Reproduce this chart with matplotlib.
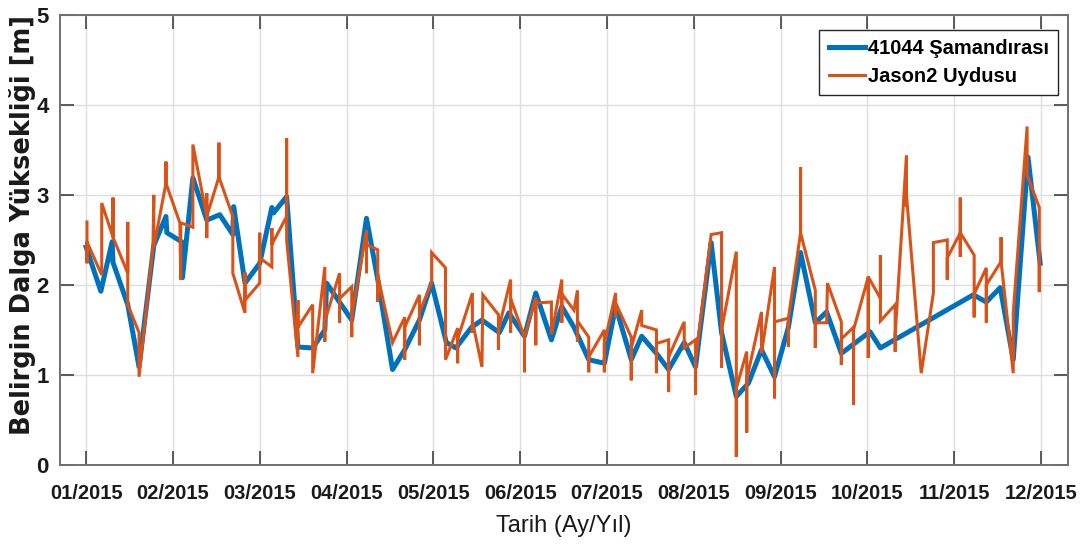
import matplotlib
matplotlib.use("Agg")
import matplotlib.pyplot as plt

# x positions are in months from 01/2015 (0 = 01/2015, 11 = 12/2015)
month_labels = ["01/2015", "02/2015", "03/2015", "04/2015", "05/2015", "06/2015",
                "07/2015", "08/2015", "09/2015", "10/2015", "11/2015", "12/2015"]

# 41044 buoy significant wave height [m]
buoy_x = [0.00, 0.17, 0.30, 0.31, 0.48, 0.61, 0.78, 0.92, 0.93, 1.10, 1.11, 1.23,
          1.39, 1.54, 1.69, 1.70, 1.83, 2.00, 2.14, 2.16, 2.31, 2.44, 2.61, 2.75,
          2.77, 3.06, 3.23, 3.36, 3.53, 3.67, 3.84, 3.98, 4.15, 4.26, 4.44, 4.56,
          4.76, 4.87, 5.05, 5.18, 5.36, 5.48, 5.62, 5.79, 5.97, 6.10, 6.28, 6.40,
          6.57, 6.71, 6.89, 7.02, 7.20, 7.32, 7.49, 7.63, 7.78, 7.93, 8.09, 8.23,
          8.40, 8.53, 8.70, 9.03, 9.15, 10.22, 10.37, 10.53, 10.68, 10.85, 10.99]
buoy_y = [2.42, 1.93, 2.48, 2.25, 1.78, 1.09, 2.44, 2.76, 2.58, 2.48, 2.08, 3.19,
          2.72, 2.78, 2.56, 2.87, 2.02, 2.24, 2.86, 2.80, 2.98, 1.31, 1.30, 1.50,
          2.02, 1.61, 2.74, 2.06, 1.06, 1.28, 1.61, 2.02, 1.36, 1.30, 1.53, 1.61,
          1.47, 1.69, 1.43, 1.91, 1.39, 1.76, 1.53, 1.17, 1.13, 1.76, 1.17, 1.43,
          1.24, 1.06, 1.36, 1.09, 2.47, 1.47, 0.76, 0.91, 1.28, 0.98, 1.53, 2.36,
          1.58, 1.70, 1.24, 1.48, 1.30, 1.89, 1.81, 1.97, 1.17, 3.42, 2.24]

# Jason2 altimeter passes (several samples share a date -> vertical strokes)
jason_x = [0.01, 0.01, 0.01, 0.18, 0.18, 0.31, 0.31, 0.31, 0.48, 0.48, 0.48,
           0.61, 0.61, 0.77, 0.78, 0.78, 0.92, 0.92, 0.92, 1.08, 1.09, 1.09,
           1.23, 1.23, 1.39, 1.39, 1.39, 1.39, 1.53, 1.53, 1.53, 1.69, 1.69,
           1.83, 1.83, 1.83, 2.00, 2.00, 2.00, 2.14, 2.14, 2.14, 2.31, 2.31, 2.31,
           2.44, 2.44, 2.44, 2.61, 2.61, 2.75, 2.75, 2.75, 2.92, 2.92, 2.92,
           3.06, 3.06, 3.06, 3.23, 3.23, 3.23, 3.36, 3.36, 3.36, 3.53,
           3.67, 3.67, 3.67, 3.84, 3.84, 3.84, 3.98, 3.98, 4.14, 4.14,
           4.28, 4.28, 4.28, 4.45, 4.45, 4.45, 4.56, 4.57, 4.75, 4.75, 4.75,
           4.89, 4.89, 4.89, 5.05, 5.05, 5.05, 5.18, 5.18, 5.18, 5.36, 5.36,
           5.48, 5.48, 5.48, 5.62, 5.66, 5.66, 5.66, 5.79, 5.79, 5.79,
           5.97, 5.97, 5.97, 6.10, 6.10, 6.10, 6.28, 6.28, 6.28, 6.40, 6.40,
           6.57, 6.57, 6.57, 6.71, 6.71, 6.71, 6.89, 6.89, 7.02, 7.02, 7.02,
           7.20, 7.32, 7.32, 7.32, 7.49, 7.49, 7.49, 7.61, 7.61, 7.61,
           7.78, 7.78, 7.93, 7.93, 7.93, 8.09, 8.09, 8.09, 8.23, 8.23, 8.23,
           8.40, 8.40, 8.40, 8.53, 8.54, 8.70, 8.70, 8.70, 8.84, 8.84, 8.84,
           9.01, 9.01, 9.01, 9.15, 9.15, 9.15, 9.32, 9.32, 9.32, 9.45, 9.45, 9.45,
           9.62, 9.76, 9.76, 9.92, 9.92, 9.92, 10.07, 10.07, 10.07, 10.07,
           10.23, 10.23, 10.23, 10.37, 10.37, 10.37, 10.54, 10.54, 10.54,
           10.68, 10.68, 10.84, 10.84, 10.98, 10.98, 10.98]
jason_y = [2.70, 2.24, 2.48, 2.11, 2.91, 2.53, 2.97, 2.53, 2.13, 2.70, 1.78,
           1.47, 0.98, 2.42, 3.00, 2.42, 3.13, 3.37, 3.13, 2.69, 2.06, 2.69,
           2.64, 3.56, 2.76, 3.02, 2.52, 2.76, 3.20, 3.58, 3.20, 2.76, 2.13,
           1.69, 2.14, 1.83, 2.02, 2.58, 2.30, 2.20, 2.63, 2.45, 2.76, 3.63, 2.50,
           1.20, 1.83, 1.53, 1.78, 1.02, 2.20, 1.37, 1.60, 2.13, 1.58, 1.85,
           1.98, 1.42, 1.65, 2.61, 2.13, 2.45, 2.39, 1.81, 2.10, 1.36,
           1.64, 1.17, 1.53, 1.89, 1.33, 1.70, 2.02, 2.36, 2.19, 1.17,
           1.52, 1.13, 1.40, 1.91, 1.47, 1.60, 1.09, 1.89, 1.67, 1.28, 1.50,
           2.06, 1.47, 1.85, 1.42, 1.03, 1.42, 1.86, 1.33, 1.80, 1.81, 1.45,
           2.06, 1.58, 1.90, 1.72, 1.94, 1.37, 1.60, 1.42, 1.03, 1.20,
           1.50, 1.03, 1.35, 1.91, 1.64, 1.80, 1.42, 0.94, 1.30, 1.72, 1.55,
           1.50, 1.02, 1.35, 1.39, 0.81, 1.20, 1.59, 1.30, 1.39, 0.78, 1.15,
           2.56, 2.58, 1.08, 1.50, 2.37, 0.09, 0.85, 1.26, 0.36, 0.95,
           1.70, 1.24, 2.20, 0.74, 1.59, 1.63, 1.31, 1.63, 2.58, 3.31, 2.58,
           1.94, 1.30, 1.58, 1.58, 2.02, 1.59, 1.11, 1.40, 1.53, 0.67, 1.50,
           2.09, 1.19, 2.09, 1.85, 2.33, 1.60, 1.78, 1.26, 1.45, 3.44, 2.87, 3.00,
           1.02, 1.91, 2.47, 2.50, 2.06, 2.30, 2.58, 2.97, 2.31, 2.58,
           2.33, 1.64, 1.90, 2.19, 1.58, 2.00, 2.26, 2.53, 2.26,
           1.02, 1.69, 3.76, 3.22, 2.86, 1.92, 2.24]

narrow = ["Liberation Sans Narrow", "Liberation Sans", "DejaVu Sans"]
axis_col = "#404040"

fig = plt.figure(figsize=(10.82, 5.49), dpi=100)
ax = fig.add_axes([0.0555, 0.153, 0.9315, 0.82])

ax.plot(buoy_x, buoy_y, color="#0072BD", lw=3.6, label="41044 Şamandırası",
        solid_joinstyle="round", zorder=2)
ax.plot(jason_x, jason_y, color="#D95319", lw=2.2, label="Jason2 Uydusu",
        solid_joinstyle="miter", zorder=3)

ax.set_xlim(-0.3, 11.31)
ax.set_ylim(0, 5)
ax.set_xticks(range(12))
ax.set_xticklabels(month_labels)
ax.set_yticks(range(6))

ax.grid(True, color="#dedede", lw=1.0)
ax.set_axisbelow(True)
ax.tick_params(direction="in", length=10, width=1.2, colors=axis_col,
               top=True, right=True, pad=8, labelcolor="#1a1a1a")
ax.tick_params(axis="x", pad=14)
for lab in ax.get_xticklabels():
    lab.set_family(narrow)
    lab.set_fontweight("bold")
    lab.set_fontsize(14.5)
for lab in ax.get_yticklabels():
    lab.set_family(narrow)
    lab.set_fontweight("bold")
    lab.set_fontsize(16)
for sp in ax.spines.values():
    sp.set_color("#707070")
    sp.set_linewidth(1.4)

ax.set_xlabel("Tarih (Ay/Yıl)", family=narrow, fontsize=17, color="#1a1a1a",
              labelpad=8)
ax.set_ylabel("Belirgin Dalga Yüksekliği [m]", family="DejaVu Sans",
              fontweight="bold", fontsize=18.5, color="#1a1a1a")
ax.yaxis.set_label_coords(-0.024, 0.533)

leg = ax.legend(loc="upper right", bbox_to_anchor=(0.990, 0.967), borderaxespad=0,
                fancybox=False, framealpha=1, edgecolor="#262626",
                prop={"family": narrow, "weight": "bold", "size": 14.5},
                handlelength=1.8, handletextpad=0.15, borderpad=0.45,
                labelspacing=0.45)
leg.get_frame().set_linewidth(1.0)

fig.savefig("out.png", dpi=100, facecolor="white")
